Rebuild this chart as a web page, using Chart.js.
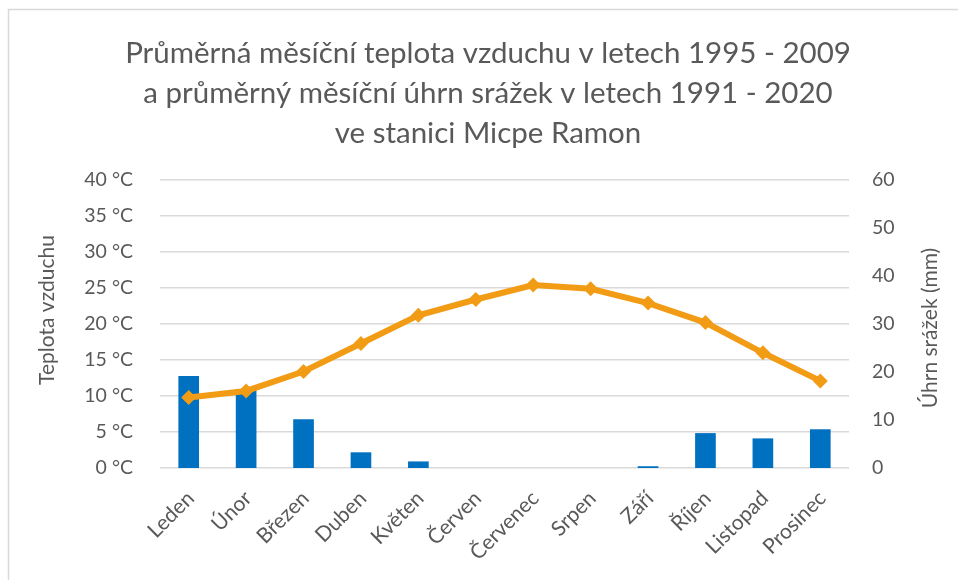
<!DOCTYPE html>
<html>
<head>
<meta charset="utf-8">
<script src="https://cdn.jsdelivr.net/npm/chart.js@4.4.0/dist/chart.umd.min.js"></script>
<style>
  html, body { margin: 0; padding: 0; background: #ffffff; }
  #wrap { width: 958px; height: 580px; position: relative; }
</style>
</head>
<body>
<div id="wrap"><canvas id="c" width="958" height="580"></canvas></div>
<script>
const months = ['Leden', 'Únor', 'Březen', 'Duben', 'Květen', 'Červen', 'Červenec', 'Srpen', 'Září', 'Říjen', 'Listopad', 'Prosinec'];
const temperature = [9.8, 10.7, 13.4, 17.3, 21.2, 23.4, 25.4, 24.9, 22.9, 20.2, 16.0, 12.1];
const precipitation = [19.1, 16.4, 10.1, 3.2, 1.3, 0, 0, 0, 0.3, 7.2, 6.1, 8.0];
const titleLines = [
  'Průměrná měsíční teplota vzduchu v letech 1995 - 2009',
  'a průměrný měsíční úhrn srážek v letech 1991 - 2020',
  've stanici Micpe Ramon'
];
const leftAxisTitle = 'Teplota vzduchu';
const rightAxisTitle = 'Úhrn srážek (mm)';

const FONT = 'Lato';
const GREY = '#595959';
const BLUE = '#0070C0';
const ORANGE = '#F29C16';

const decorPlugin = {
  id: 'decor',
  beforeDraw(chart) {
    const ctx = chart.ctx;
    ctx.save();
    ctx.fillStyle = '#ffffff';
    ctx.fillRect(0, 0, chart.width, chart.height);
    ctx.strokeStyle = '#d9d9d9';
    ctx.lineWidth = 1.5;
    ctx.strokeRect(8.5, 9.5, chart.width + 10, chart.height + 10);
    ctx.restore();
  },
  afterDraw(chart) {
    const ctx = chart.ctx;
    const drawTitle = (text, x, y) => {
      ctx.save();
      ctx.fillStyle = GREY;
      ctx.font = '21px ' + FONT;
      ctx.textAlign = 'center';
      ctx.textBaseline = 'middle';
      ctx.translate(x, y);
      ctx.rotate(-Math.PI / 2);
      ctx.fillText(text, 0, 0);
      ctx.restore();
    };
    drawTitle(leftAxisTitle, 47, 310);
    drawTitle(rightAxisTitle, 930, 328);
  }
};

new Chart(document.getElementById('c'), {
  data: {
    labels: months,
    datasets: [
      {
        type: 'line',
        label: 'Teplota',
        data: temperature,
        yAxisID: 'y',
        borderColor: ORANGE,
        backgroundColor: ORANGE,
        borderWidth: 6,
        pointStyle: 'rectRot',
        pointRadius: 7.5,
        pointBorderWidth: 0,
        pointBackgroundColor: ORANGE,
        tension: 0,
        order: 0
      },
      {
        type: 'bar',
        label: 'Srážky',
        data: precipitation,
        yAxisID: 'y1',
        backgroundColor: c => (c.raw === 0 ? 'rgba(0,0,0,0)' : BLUE),
        barThickness: 20,
        order: 1
      }
    ]
  },
  options: {
    responsive: false,
    animation: false,
    devicePixelRatio: 1,
    layout: { padding: { left: 18, right: 0, top: 0, bottom: 0 } },
    plugins: {
      legend: { display: false },
      tooltip: { enabled: false },
      title: {
        display: true,
        text: titleLines,
        color: GREY,
        font: { family: FONT, size: 29.5, weight: 'normal', lineHeight: 40 / 29.5 },
        padding: { top: 33, bottom: 27 }
      }
    },
    scales: {
      x: {
        grid: { display: false, drawTicks: false },
        border: { display: false },
        ticks: {
          color: GREY,
          font: { family: FONT, size: 21 },
          maxRotation: 45,
          minRotation: 45,
          autoSkip: false,
          padding: 18,
          labelOffset: 2
        },
        afterFit(s) { s.height = 112; }
      },
      y: {
        position: 'left',
        min: 0,
        max: 40,
        grid: { color: '#d9d9d9', lineWidth: 1.5, drawTicks: false },
        border: { display: false },
        ticks: {
          stepSize: 5,
          color: GREY,
          font: { family: FONT, size: 19.5 },
          padding: 27,
          callback: v => v + ' °C'
        },
        afterFit(s) { s.width = 142; }
      },
      y1: {
        position: 'right',
        min: 0,
        max: 60,
        grid: { display: false, drawTicks: false },
        border: { display: false },
        ticks: {
          stepSize: 10,
          color: GREY,
          font: { family: FONT, size: 19.5 },
          padding: 23
        },
        afterFit(s) { s.width = 109; }
      }
    }
  },
  plugins: [decorPlugin]
});
</script>
</body>
</html>
